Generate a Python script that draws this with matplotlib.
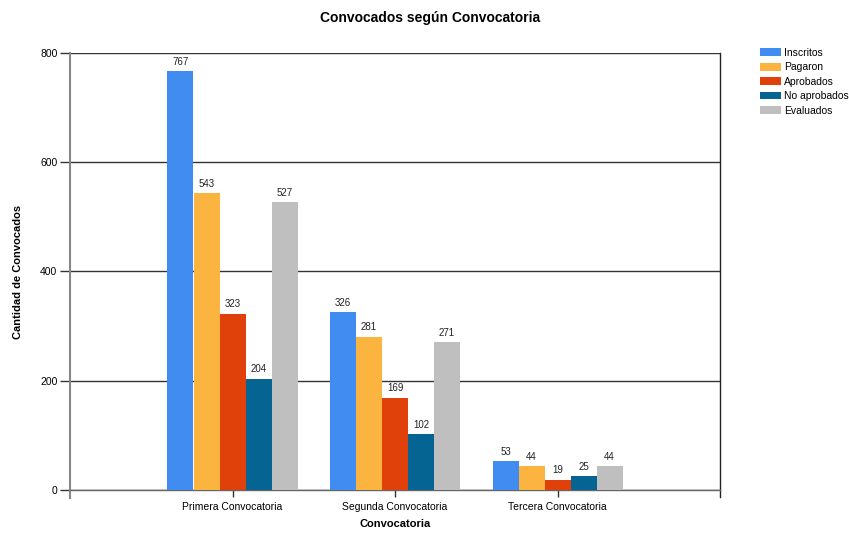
import matplotlib
matplotlib.use("Agg")
import matplotlib.pyplot as plt
import numpy as np

categories = ["Primera Convocatoria", "Segunda Convocatoria", "Tercera Convocatoria"]
series_names = ["Inscritos", "Pagaron", "Aprobados", "No aprobados", "Evaluados"]
inscritos = [767, 326, 53]
pagaron = [543, 281, 44]
aprobados = [323, 169, 19]
no_aprobados = [204, 102, 25]
evaluados = [527, 271, 44]
y_ticks = [0, 200, 400, 600, 800]

series_values = [inscritos, pagaron, aprobados, no_aprobados, evaluados]
colors = ["#418CF0", "#FCB441", "#E0400A", "#056492", "#BFBFBF"]

plt.rcParams['font.family'] = ['Liberation Sans', 'DejaVu Sans']

fig = plt.figure(figsize=(8.49, 5.33), dpi=100)
ax = fig.add_axes([70/849, (533-490)/533, (720-70)/849, (490-53)/533])

x = np.arange(1, len(categories) + 1)
n = len(series_names)
w = 0.8 / n
for i, (name, vals, c) in enumerate(zip(series_names, series_values, colors)):
    pos = x - 0.4 + w * (i + 0.5)
    ax.bar(pos, vals, width=w, color=c, label=name, zorder=3)
    for p, v in zip(pos, vals):
        ax.text(p, v + 8, str(v), ha='center', va='bottom', fontsize=7, color='#222222', zorder=4)

ax.set_xlim(0, 4)
ax.set_ylim(0, 800)
ax.set_yticks(y_ticks)
ax.set_yticklabels([str(t) for t in y_ticks], fontsize=7.5)
ax.set_xticks(x)
ax.set_xticklabels(categories, fontsize=7.5)
ax.yaxis.grid(True, color='#333333', linewidth=1, zorder=0)
ax.set_axisbelow(True)

ax.tick_params(axis='y', length=7, width=1, color='#333333', pad=2)
ax.tick_params(axis='x', length=5, width=1, color='#333333', pad=4)

ax.spines['top'].set_visible(False)
ax.spines['left'].set_color('#888888')
ax.spines['left'].set_linewidth(1.5)
ax.spines['bottom'].set_color('#666666')
ax.spines['bottom'].set_linewidth(1)
ax.spines['right'].set_color('#222222')
ax.spines['right'].set_linewidth(1)
ax.spines['left'].set_bounds(-15, 800)
ax.spines['right'].set_bounds(-12, 800)

ax.set_ylabel("Cantidad de Convocados", fontsize=8, fontweight='bold')
ax.yaxis.set_label_coords(-(70 - 18) / 650, 0.5)
ax.set_xlabel("Convocatoria", fontsize=8, fontweight='bold')
ax.xaxis.set_label_coords(0.5, -(524 - 490) / 437)
ax.xaxis.label.set_va('center')
ax.yaxis.label.set_va('center')
fig.text(430/849, 1 - 18/533, "Convocados según Convocatoria", ha='center', va='center',
         fontsize=10, fontweight='bold')

leg = fig.legend(loc='upper left', bbox_to_anchor=(760/849, 1 - 48/533), frameon=False,
                 fontsize=7.5, handlelength=2.0, handleheight=0.8, handletextpad=0.35,
                 labelspacing=0.42, borderaxespad=0, borderpad=0)

fig.savefig("out.png", dpi=100)
